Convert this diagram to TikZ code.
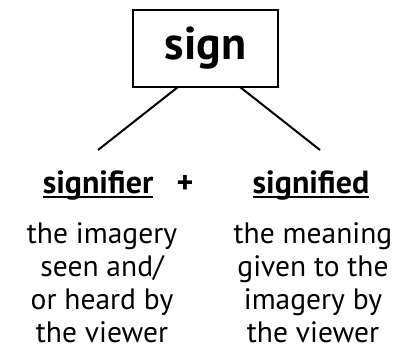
\documentclass[tikz,border=0pt]{standalone}
\usepackage{fontspec}
\setmainfont{PT Sans}
\begin{document}
\begin{tikzpicture}[x=1pt,y=1pt,
  boxnode/.style={draw,line width=2pt,minimum width=145pt,minimum height=77pt,inner sep=0pt,font=\fontsize{46}{50}\selectfont\bfseries},
  lbl/.style={inner sep=0pt,anchor=base,font=\fontsize{32}{33}\selectfont\bfseries},
  bodytxt/.style={inner sep=0pt,anchor=base,font=\fontsize{29.5}{33}\selectfont},
  conn/.style={line width=2pt}]
\useasboundingbox (0,0) rectangle (402,-359);
\node[boxnode] (sign) at (205.5,-48.5) {sign};
\coordinate (la) at (178,-87);
\coordinate (lb) at (98,-150);
\coordinate (ra) at (240,-87);
\coordinate (rb) at (320,-150);
\draw[conn] (la) -- (lb);
\draw[conn] (ra) -- (rb);
\node[lbl] (sr) at (98,-193) {signifier};
\node[lbl] (plus) at (185,-193) {+};
\node[lbl] (sd) at (311,-193) {signified};
\draw[conn] ([yshift=-4pt]sr.base west) -- ([yshift=-4pt]sr.base east);
\draw[conn] ([yshift=-4pt]sd.base west) -- ([yshift=-4pt]sd.base east);
\node[bodytxt] (l1) at (102,-243) {the imagery};
\node[bodytxt] (l2) at (102,-276) {seen and/};
\node[bodytxt] (l3) at (102,-309) {or heard by};
\node[bodytxt] (l4) at (102,-342) {the viewer};
\node[bodytxt] (r1) at (313,-243) {the meaning};
\node[bodytxt] (r2) at (313,-276) {given to the};
\node[bodytxt] (r3) at (313,-309) {imagery by};
\node[bodytxt] (r4) at (313,-342) {the viewer};
\end{tikzpicture}
\end{document}
